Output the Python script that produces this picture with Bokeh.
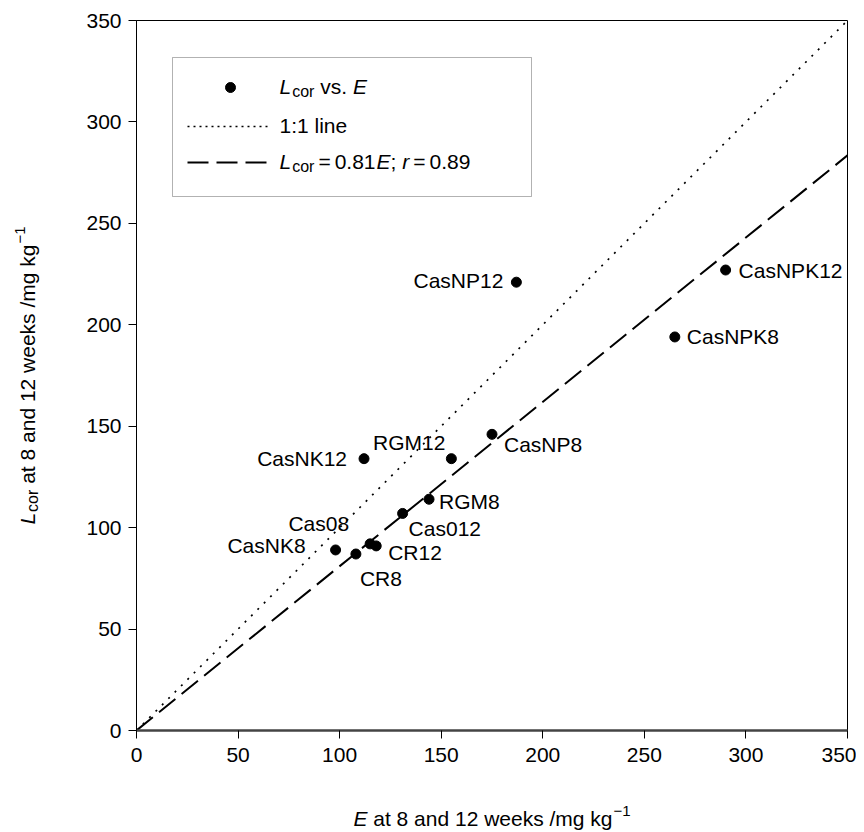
from math import pi
from bokeh.plotting import figure
from bokeh.layouts import row, column
from bokeh.models import Range1d, FixedTicker, Label, BoxAnnotation, ColumnDataSource
from bokeh.core.properties import value, field
from bokeh.embed import file_html
from bokeh.resources import INLINE

# ---------------- data ----------------
names = ["CasNK8", "CR8", "Cas08", "CR12", "Cas012", "RGM8",
         "CasNK12", "RGM12", "CasNP8", "CasNP12", "CasNPK8", "CasNPK12"]
E_vals = [98, 108, 115, 118, 131, 144, 112, 155, 175, 187, 265, 290]
Lcor_vals = [89, 87, 92, 91, 107, 114, 134, 134, 146, 221, 194, 227]
line_x = [0, 350]
slope = 0.81
ticks = [0, 50, 100, 150, 200, 250, 300, 350]

# ---------------- layout (page pixels) ----------------
TOTAL_W = 856
YLAB_W = 60
MAIN_H = 774
XLAB_H = 56
FL, FR, FT, FB = 136, 847, 20, 730
SX = (FR - FL) / 350.0
SY = (FB - FT) / 350.0
def dx(px): return (px - FL) / SX
def dy(py): return (FB - py) / SY

BFIX = 7  # renderer draws "alphabetic" text this many px below its anchor

FONT = "Liberation Sans"
W = {' ': 278, 'a': 556, 't': 278, '8': 556, 'n': 556, 'd': 556, '1': 556, '2': 556,
     'w': 722, 'e': 556, 'k': 500, 's': 500, '/': 278, 'm': 833, 'g': 556, 'L': 556,
     'c': 500, 'o': 556, 'r': 333, 'E': 667, '\u2212': 584, '0': 556, '.': 278, 'v': 500,
     '=': 584, ';': 278, '9': 556, ':': 278, 'l': 222, 'i': 222}
def tw(s, size): return sum(W.get(c, 556) for c in s) / 1000.0 * size

BIG, SUB, SUP = 21, 16, 15


def add_label(fig, x, y, text, size=BIG, style="normal", angle=0.0):
    fig.add_layout(Label(x=x, y=y, text=text, angle=angle, text_font=FONT,
                         text_font_size=f"{size}px", text_font_style=style,
                         text_align="left", text_baseline="alphabetic", text_color="black"))


def blank_fig(w, h, top=0, bottom=0):
    f = figure(width=w, height=h, output_backend="svg", toolbar_location=None, title=None,
               x_axis_type=None, y_axis_type=None, min_border=0,
               min_border_left=0, min_border_right=0,
               min_border_top=top, min_border_bottom=bottom,
               x_range=Range1d(0, w), y_range=Range1d(bottom, h - top))
    f.outline_line_color = None
    f.background_fill_color = "white"
    f.border_fill_color = "white"
    return f


# ---------------- main plot ----------------
p = figure(width=TOTAL_W - YLAB_W, height=MAIN_H, output_backend="svg", toolbar_location=None,
           title=None, x_range=Range1d(0, 350), y_range=Range1d(0, 350),
           min_border_left=FL - YLAB_W, min_border_right=TOTAL_W - FR,
           min_border_top=FT, min_border_bottom=MAIN_H - FB)
p.background_fill_color = "white"
p.border_fill_color = "white"
p.outline_line_color = "black"
p.outline_line_width = 1
p.xgrid.visible = False
p.ygrid.visible = False

for ax in (p.xaxis[0], p.yaxis[0]):
    ax.ticker = FixedTicker(ticks=ticks)
    ax.minor_tick_line_color = None
    ax.major_tick_in = 0
    ax.major_tick_out = 8
    ax.major_tick_line_color = "black"
    ax.major_label_text_font = FONT
    ax.major_label_text_font_size = "21px"
    ax.major_label_text_color = "black"
p.xaxis.major_label_standoff = 9
p.yaxis.major_label_standoff = 7
p.xaxis.axis_line_color = "#444444"
p.xaxis.axis_line_width = 2.5
p.yaxis.axis_line_color = "black"
p.yaxis.axis_line_width = 1

# reference lines
p.line(line_x, line_x, line_color="black", line_width=1.7, line_dash="2 7")
p.line(line_x, [slope * v for v in line_x], line_color="black", line_width=2, line_dash="21 8")

# points
p.scatter(E_vals, Lcor_vals, size=10, fill_color="black", line_color="black")

# point labels (offsets in pixels, baseline relative to the point)
lab_dx = [-30, 4, -21, 12, 6, 10, -17, -6, 12, -13, 12, 13]
lab_dy = [3, 31, -13, 14, 22, 9, 7, -9, 17, 5, 7, 7]
lab_al = ["right", "left", "right", "left", "left", "left",
          "right", "right", "left", "right", "left", "left"]
src = ColumnDataSource(dict(x=E_vals, y=Lcor_vals, t=names, ox=lab_dx,
                            oy=[v - BFIX for v in lab_dy], al=lab_al))
p.text(x="x", y="y", text="t", x_offset="ox", y_offset="oy", text_align=field("al"),
       text_baseline="alphabetic", text_font=value(FONT), text_font_size="21px",
       text_color="black", source=src)

# ---------------- legend ----------------
p.add_layout(BoxAnnotation(left=dx(172), right=dx(531), top=dy(57), bottom=dy(196),
                           fill_color="white", fill_alpha=1, line_color="black", line_width=1))
p.scatter([dx(230)], [dy(87)], size=10, fill_color="black", line_color="black", level="overlay")
p.line([dx(187), dx(268)], [dy(126)] * 2, line_color="black", line_width=1.7, line_dash="2 4",
       level="overlay")
p.line([dx(187), dx(268)], [dy(162)] * 2, line_color="black", line_width=2, line_dash="21 8",
       level="overlay")


def seq(fig, x0, base, pieces, conv_x, conv_y):
    """pieces: (text, size, style, baseline shift down px, gap before px)"""
    for text, size, style, shift, gap in pieces:
        x0 += gap
        add_label(fig, conv_x(x0), conv_y(base + shift - BFIX), text, size, style)
        x0 += tw(text, size)
    return x0


sp = tw(" ", BIG)
thin = 4
seq(p, 279, 93, [("L", BIG, "italic", 0, 0), ("cor", SUB, "normal", 5, 1),
                 ("vs.", BIG, "normal", 0, sp), ("E", BIG, "italic", 0, sp)], dx, dy)
seq(p, 279, 132, [("1:1 line", BIG, "normal", 0, 0)], dx, dy)
seq(p, 279, 168, [("L", BIG, "italic", 0, 0), ("cor", SUB, "normal", 5, 1),
                  ("=", BIG, "normal", 0, thin), ("0.81", BIG, "normal", 0, thin),
                  ("E", BIG, "italic", 0, 1), (";", BIG, "normal", 0, 0),
                  ("r", BIG, "italic", 0, sp), ("=", BIG, "normal", 0, thin),
                  ("0.89", BIG, "normal", 0, thin)], dx, dy)

main_t = "at 8 and 12 weeks /mg kg"

# ---------------- x title (strip below) ----------------
xl = blank_fig(TOTAL_W, XLAB_H)
x_pieces = [("E", BIG, "italic", 0, 0), (main_t, BIG, "normal", 0, sp),
            ("\u22121", SUP, "normal", -8, 1)]
total = sum(tw(t, s) + g for t, s, _, _, g in x_pieces)
x0 = (FL + FR) / 2 - total / 2
seq(xl, x0, 825, x_pieces, lambda v: v, lambda v: MAIN_H + XLAB_H - v)

# ---------------- y title (strip left, rotated; frame aligned with main frame) ----------------
yl = blank_fig(YLAB_W, MAIN_H, top=FT, bottom=MAIN_H - FB)
y_pieces = [("L", BIG, "italic", 0, 0), ("cor", SUB, "normal", 5, 1),
            (main_t, BIG, "normal", 0, sp), ("\u22121", SUP, "normal", -8, 1)]
total = sum(tw(t, s) + g for t, s, _, _, g in y_pieces)
ypos = (FT + FB) / 2 + total / 2
base_x = 34
for text, size, style, shift, gap in y_pieces:
    ypos -= gap
    add_label(yl, base_x + shift - BFIX, MAIN_H - ypos, text, size, style, angle=pi / 2)
    ypos -= tw(text, size)

layout = column(row(yl, p), xl)
open("out.html", "w").write(file_html(layout, INLINE))
